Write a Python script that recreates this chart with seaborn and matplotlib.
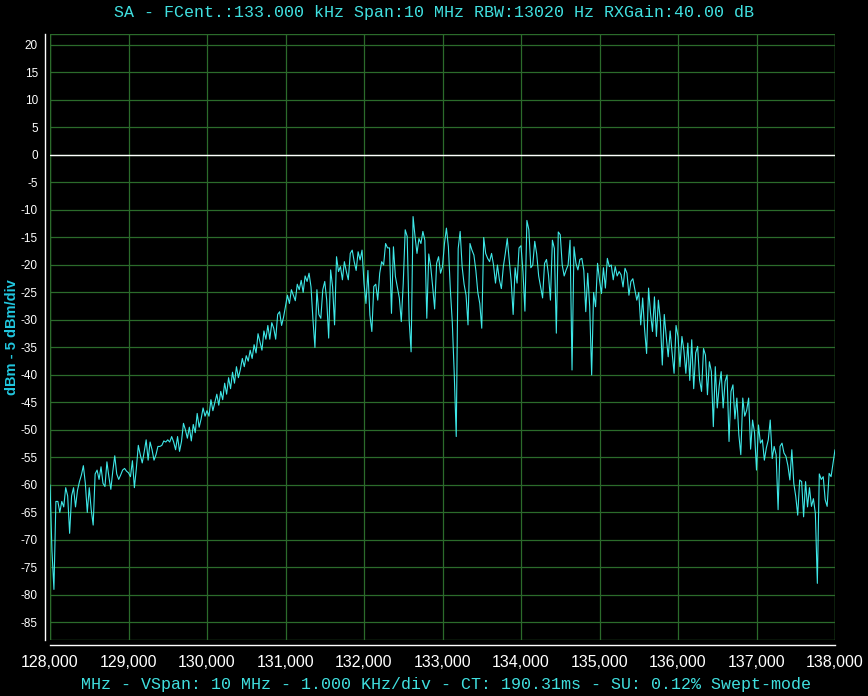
import numpy as np
import pandas as pd
import matplotlib
matplotlib.use('Agg')
import matplotlib.pyplot as plt
from matplotlib.patches import Rectangle
from matplotlib.ticker import FuncFormatter
import seaborn as sns

# sweep settings (kHz) and the measured trace (dBm), one value per sweep bin
freq_start = 128000
freq_stop = 138000
level_dbm = [
    # 128.0 - 129.0
    -60, -72, -79, -63, -63, -65, -63, -64, -60.5, -62,
    -68.8, -62, -60.5, -64, -61, -59.4, -58.2, -56.5, -59.7, -65,
    -60.5, -64.5, -67.3, -58, -57.3, -59, -56.7, -59.7, -60.3, -55.8,
    -58.5, -60.8, -57.5, -54.7, -58, -59, -58.2, -57.3, -57, -57.5,
    # 129.0 - 129.75
    -57.8, -58.5, -55.6, -60.5, -57, -52.8, -54.5, -56, -54, -51.8,
    -55.5, -52.2, -53.6, -55.5, -54.5, -53, -53, -52.8, -52, -52.2,
    -51.8, -52.2, -51.2, -52.2, -53.6, -51.2, -53.9, -52.1, -48.8, -50,
    # rising edge
    -51.5, -49.5, -52, -49, -50.5, -47, -49.5, -48, -46, -47.5,
    -46.5, -47.5, -44.5, -46.5, -45, -43.5, -45.5, -43, -44.5, -41.5,
    -43.5, -40.5, -42.5, -39.5, -41.5, -38.5, -40.5, -39, -37, -38.5,
    -36.5, -37.5, -35.5, -37, -34.5, -36, -32.5, -34, -35.5, -32,
    -33.5, -31, -33.5, -30.5, -31.5, -33.5, -29, -28.5, -31, -29.5,
    -27.5, -25.5, -27, -24.5, -25.5, -26.5, -23.5, -24.5, -22.8, -25,
    -22, -23, -21.5, -24, -30, -35, -24.5, -29,
    # plateau
    -29.7, -24.5, -23, -26.4, -33.3, -20.9, -24, -30.9, -18.5, -21.2,
    -20.3, -22.7, -19.4, -21.2, -22.7, -17.9, -17.3, -19.4, -21, -17.6,
    -19.1, -17.3, -23.3, -27, -21, -29.1, -32.1, -23.9, -23.5, -26.4,
    -21.5, -19.4, -20, -16.1, -16.9, -16.9, -28.8, -16.7, -22.1, -24,
    -26, -30.3, -23.3, -13.6, -14.8, -30, -35.8, -11.2, -14.8, -17.9,
    -15.2, -16.1, -13.9, -15.5, -29.7, -18, -20.3, -24, -28,
    -19.7, -18.5, -21.5, -20.3, -16.1, -13.3, -16.7, -24.5, -30.5, -40,
    -51.2, -17, -13.9, -20.3, -23.5, -25.5, -30.9, -16.1, -17.3, -18.2,
    -21, -25, -27, -31.5, -15, -17.9, -18.8, -19.4, -17.9, -20,
    -23.3, -20, -22.7, -24.3, -20.3, -17.9, -15.2, -19, -23, -29,
    -20.5, -23.3, -16.9, -16.5, -21.2, -28.4, -11.9, -13.6, -20.5, -20,
    -15.7, -18, -22, -24, -26, -19.7, -19, -21.8, -26.4, -15.5,
    -17, -32.4, -14,
    # falling edge
    -14.5, -20, -22, -20.9, -20, -15.5, -39.1, -16.7, -19.7, -20.9,
    -19, -18.8, -21, -28.5, -21.5, -27.6, -40, -25, -27.6, -19.7,
    -22.7, -25.2, -20.5, -24.2, -18.8, -20.3, -20, -22.7, -20.3, -22,
    -21.2, -21.8, -24, -20.6, -21.5, -25.5, -23, -22.5, -24.5, -26.4,
    -25, -30.9, -26, -31.8, -36.1, -24.2, -28.8, -32.1, -25.8, -33,
    -26.4, -30, -38.2, -29, -33, -36.7, -32, -36, -39.7, -31,
    -33,
    -38.5, -33, -35.5, -39.7, -34.2, -41, -33.6, -42.5, -36, -34.8,
    -40.9, -43, -35.2, -36.4, -43.6, -37.6, -39.4, -49.4, -38.5, -46,
    -42, -39.4, -46, -41.2, -40, -52.1, -43, -41.8, -48, -44.2,
    -50.9, -54.5, -44.2, -47.5, -46.4, -44.2, -53.5, -48.2, -50.5, -57.3,
    -49.1, -52.4, -51.8, -55.5, -53.3, -51.8, -48.2, -55.2, -53, -54.5,
    -64.5, -53, -52.4, -54.2, -54.8, -56.5, -59.1, -53.6, -59.7, -62.1,
    -65.5, -59.1, -59.4, -65.8, -59.4, -64, -60.5, -63.9, -62.5, -65.2,
    -77.9, -58, -59, -58.5, -62.7, -63.9, -57.9, -58.5, -56, -53.6,
]
x_ticks = [128000, 129000, 130000, 131000, 132000, 133000,
           134000, 135000, 136000, 137000, 138000]
y_ticks = list(range(-85, 25, 5))

title = "SA - FCent.:133.000 kHz Span:10 MHz RBW:13020 Hz RXGain:40.00 dB"
footer = ("MHz - VSpan: 10 MHz - 1.000 KHz/div - CT: 190.31ms - "
          "SU: 0.12% Swept-mode")

GRID = '#2b6b2b'
TRACE = '#3ee8e8'
CYAN_TXT = '#40e0e0'

df = pd.DataFrame({
    'freq_khz': np.linspace(freq_start, freq_stop, len(level_dbm)),
    'level_dbm': level_dbm,
})

sns.set_theme(style='dark', rc={
    'figure.facecolor': 'black',
    'axes.facecolor': 'black',
    'grid.color': GRID,
    'xtick.color': 'white',
    'ytick.color': 'white',
    'axes.unicode_minus': False,
})
plt.rcParams['font.family'] = ['Liberation Sans', 'DejaVu Sans']

fig = plt.figure(figsize=(8.68, 6.96), dpi=100)
ax = fig.add_axes([50 / 868, 56 / 696, 785 / 868, 606 / 696])

sns.lineplot(data=df, x='freq_khz', y='level_dbm', ax=ax,
             color=TRACE, linewidth=0.8, zorder=3)
ax.axhline(0, color='white', linewidth=1.0, zorder=2)

ax.set_xlim(freq_start, freq_stop)
ax.set_ylim(-88.2, 22)
ax.set_xticks(x_ticks)
ax.set_yticks(y_ticks)
ax.xaxis.set_major_formatter(FuncFormatter(lambda v, p: f'{v:,.0f}'))
ax.grid(True, color=GRID, linewidth=0.9)
ax.set_axisbelow(True)
ax.set_xlabel('')
ax.set_ylabel('')

sns.despine(ax=ax, offset=3.6)
for side in ['left', 'bottom']:
    ax.spines[side].set_color('white')
    ax.spines[side].set_linewidth(1.0)
ax.add_patch(Rectangle((0, 0), 1, 1, transform=ax.transAxes, fill=False,
                       edgecolor=GRID, linewidth=1.0, zorder=1))

ax.tick_params(axis='x', length=3.6, width=0.8, pad=3.5, labelsize=11.5,
               colors='white')
ax.tick_params(axis='y', length=3.6, width=0.8, pad=1.5, labelsize=8.5,
               colors='white')

fig.text(434 / 868, 1 - 12 / 696, title, ha='center', va='center',
         color=CYAN_TXT, fontsize=12, family=['Liberation Mono', 'DejaVu Sans Mono'])
fig.text(446 / 868, 1 - 685 / 696, footer, ha='center', va='center',
         color=CYAN_TXT, fontsize=12, family=['Liberation Mono', 'DejaVu Sans Mono'])
fig.text(12 / 868, 1 - 337 / 696, 'dBm - 5 dBm/div', rotation=90,
         ha='center', va='center', color='#22c8e0', fontsize=10.5,
         fontweight='bold')

fig.savefig('out.png', dpi=100, facecolor='black')
